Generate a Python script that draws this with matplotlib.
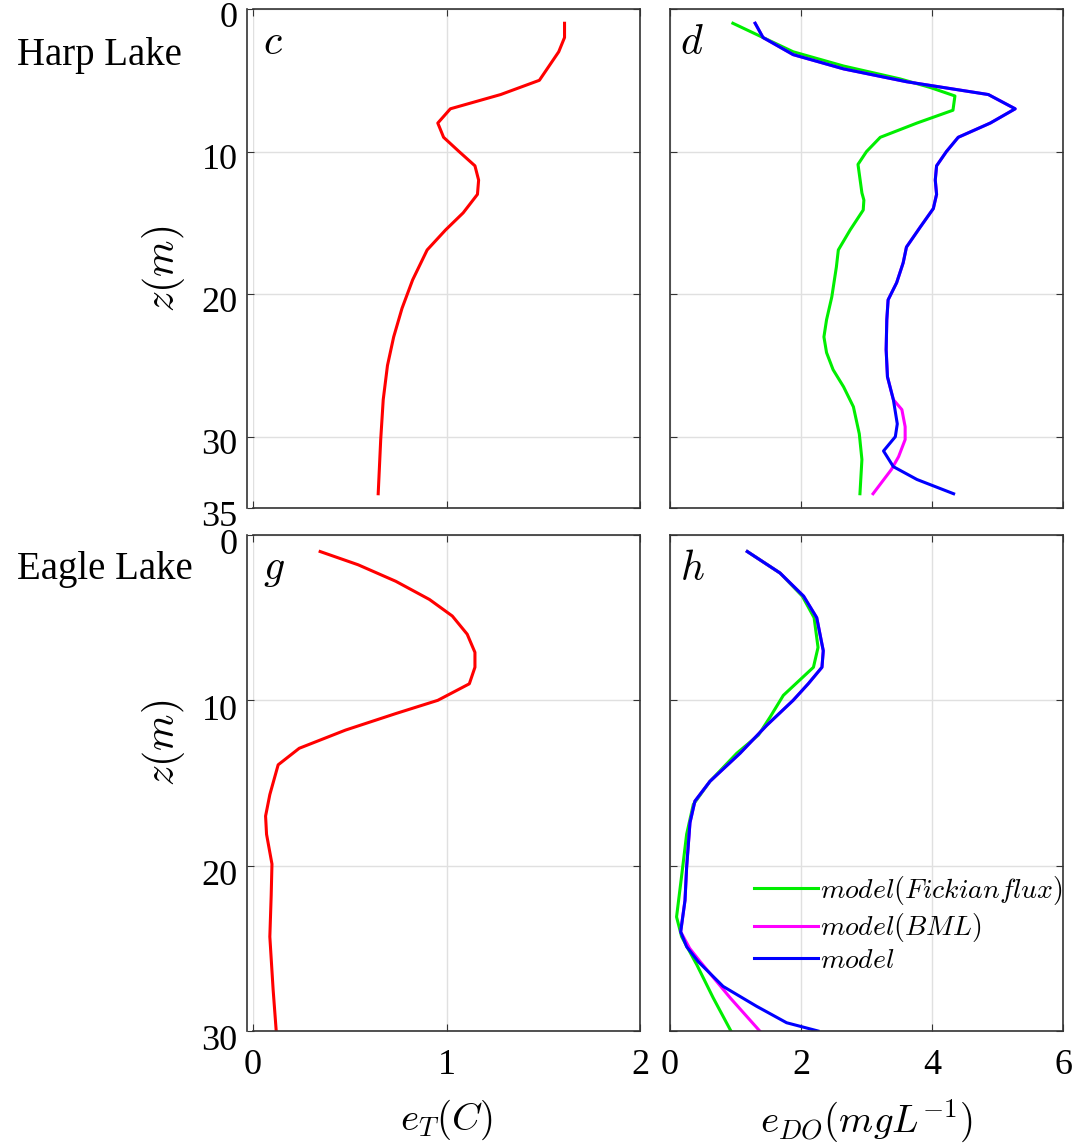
import matplotlib
matplotlib.use("Agg")
import matplotlib.pyplot as plt
import matplotlib.transforms as mtransforms

plt.rcParams['font.family'] = ['Liberation Serif', 'DejaVu Serif']
plt.rcParams['mathtext.fontset'] = 'cm'

# Harp Lake, temperature error (panel c)
harp_z_T = [1, 2, 3, 5, 6, 7, 8, 9, 10, 11, 12, 13, 14.3, 15.5, 16.9, 19, 21, 23, 25, 27.4, 30.2, 34]
harp_eT = [1.61, 1.61, 1.58, 1.48, 1.28, 1.02, 0.955, 0.985, 1.065, 1.147, 1.166, 1.16, 1.086, 0.995,
           0.90, 0.825, 0.77, 0.727, 0.695, 0.673, 0.66, 0.647]

# Harp Lake, DO error (panel d)
harp_z_fick = [1, 2, 3, 4, 4.9, 5.5, 6.1, 7.1, 8, 9, 10, 10.9, 12.9, 13.4, 14.1, 15.5, 16.9, 18.1,
               20.2, 21.8, 23, 24.1, 25.3, 26.5, 27.9, 29.8, 31.6, 34]
harp_fick = [0.96, 1.42, 1.88, 2.65, 3.51, 3.97, 4.35, 4.32, 3.77, 3.21, 3.0, 2.87, 2.93, 2.96, 2.95,
             2.75, 2.57, 2.54, 2.47, 2.39, 2.35, 2.39, 2.49, 2.65, 2.80, 2.89, 2.93, 2.90]
harp_z_mod = [1, 2, 3.2, 4.2, 5.1, 6, 7, 8, 9, 10, 11, 12, 13, 14, 15.3, 16.7, 17.8, 19.2, 20.4, 21.8,
              23.9, 25.8, 27.4, 29.1, 30, 31, 32.1, 33, 34]
harp_mod = [1.30, 1.42, 1.88, 2.65, 3.61, 4.86, 5.27, 4.89, 4.40, 4.22, 4.07, 4.05, 4.07, 4.02, 3.82,
            3.61, 3.56, 3.46, 3.33, 3.31, 3.30, 3.32, 3.41, 3.47, 3.44, 3.26, 3.41, 3.77, 4.33]
harp_z_bml = [1, 2, 3.2, 4.2, 5.1, 6, 7, 8, 9, 10, 11, 12, 13, 14, 15.3, 16.7, 17.8, 19.2, 20.4, 21.8,
              23.9, 25.8, 27.4, 28.1, 29.3, 30.2, 31.4, 32.3, 34]
harp_bml = [1.30, 1.42, 1.88, 2.65, 3.61, 4.86, 5.27, 4.89, 4.40, 4.22, 4.07, 4.05, 4.07, 4.02, 3.82,
            3.61, 3.56, 3.46, 3.33, 3.31, 3.30, 3.32, 3.41, 3.54, 3.59, 3.59, 3.49, 3.38, 3.10]

# Eagle Lake, temperature error (panel g)
eagle_z_T = [1, 1.8, 2.8, 3.9, 4.9, 6, 7.1, 8, 9, 10, 10.8, 11.8, 12.9, 13.9, 15.7, 17, 18.1, 19.9,
             21.8, 24.3, 27.5, 30]
eagle_eT = [0.347, 0.543, 0.738, 0.912, 1.03, 1.107, 1.147, 1.147, 1.118, 0.955, 0.738, 0.478, 0.239,
            0.13, 0.087, 0.065, 0.07, 0.098, 0.094, 0.087, 0.104, 0.12]

# Eagle Lake, DO error (panel h)
eagle_z_mod = [1, 2.3, 3.7, 5, 7, 8, 9, 10, 11.5, 13.2, 14.9, 16.1, 17.4, 20.1, 22.1, 24, 24.9, 25.8,
               27.3, 28.5, 29.5, 30]
eagle_mod = [1.18, 1.68, 2.04, 2.24, 2.34, 2.32, 2.11, 1.88, 1.48, 1.07, 0.61, 0.38, 0.305, 0.254,
             0.229, 0.163, 0.254, 0.43, 0.81, 1.32, 1.78, 2.26]
eagle_z_fick = [1, 2.3, 3.7, 5, 6.8, 8, 9.7, 11, 12.1, 13.2, 14.9, 16.3, 18.1, 20.6, 23.1, 24.3, 26,
                28, 30]
eagle_fick = [1.18, 1.68, 2.02, 2.20, 2.26, 2.19, 1.73, 1.53, 1.35, 1.02, 0.61, 0.356, 0.254, 0.178,
              0.10, 0.178, 0.41, 0.66, 0.93]
eagle_z_bml = [1, 2.3, 3.7, 5, 7, 8, 9, 10, 11.5, 13.2, 14.9, 16.1, 17.4, 20.1, 22.1, 24, 25, 25.8,
               28, 30]
eagle_bml = [1.18, 1.68, 2.04, 2.24, 2.34, 2.32, 2.11, 1.88, 1.48, 1.07, 0.61, 0.38, 0.305, 0.254,
             0.229, 0.163, 0.30, 0.46, 0.92, 1.37]

lake_names = ["Harp Lake", "Eagle Lake"]
panel_letters = [["c", "d"], ["g", "h"]]
legend_labels = [r"$model(Fickian flux)$", r"$model(BML)$", r"$model$"]

W, H = 1078, 1147
fig = plt.figure(figsize=(W / 100, H / 100), dpi=100)


def box(x0, y0, x1, y1):
    return [x0 / W, 1 - y1 / H, (x1 - x0) / W, (y1 - y0) / H]


ax_c = fig.add_axes(box(253, 9, 640, 508))
ax_d = fig.add_axes(box(670, 9, 1063, 508))
ax_g = fig.add_axes(box(253, 535, 640, 1031))
ax_h = fig.add_axes(box(670, 535, 1063, 1031))

lw = 2.2
ax_c.plot(harp_eT, harp_z_T, color="#ff0000", lw=lw)
ax_d.plot(harp_fick, harp_z_fick, color="#00ee00", lw=lw)
ax_d.plot(harp_bml, harp_z_bml, color="#ff00ff", lw=lw)
ax_d.plot(harp_mod, harp_z_mod, color="#0000ff", lw=lw)

ax_g.plot(eagle_eT, eagle_z_T, color="#ff0000", lw=lw)
ax_h.plot(eagle_fick, eagle_z_fick, color="#00ee00", lw=lw, label=legend_labels[0])
ax_h.plot(eagle_bml, eagle_z_bml, color="#ff00ff", lw=lw, label=legend_labels[1])
ax_h.plot(eagle_mod, eagle_z_mod, color="#0000ff", lw=lw, label=legend_labels[2])

axes = [[ax_c, ax_d], [ax_g, ax_h]]
for r, row in enumerate(axes):
    for c, ax in enumerate(row):
        if r == 0:
            ax.set_ylim(35, 0)
            ax.set_yticks([0, 10, 20, 30, 35])
        else:
            ax.set_ylim(30, 0)
            ax.set_yticks([0, 10, 20, 30])
        if c == 0:
            ax.set_xlim(0, 2)
            ax.set_xticks([0, 1, 2])
            ax.spines['left'].set_position(('outward', 4))
        else:
            ax.set_xlim(0, 6)
            ax.set_xticks([0, 2, 4, 6])
        ax.grid(True, color="#e0e0e0", lw=1)
        ax.tick_params(direction="in", top=True, right=True, labelsize=26, length=5,
                       color="#333333")
        ax.tick_params(axis="y", pad=7)
        ax.tick_params(axis="x", pad=13)
        for s in ax.spines.values():
            s.set_color("#333333")
            s.set_linewidth(1.2)
        if c == 1:
            ax.tick_params(labelleft=False)
        if r == 0:
            ax.tick_params(labelbottom=False)
        letter_off = mtransforms.ScaledTranslation(10 / 100, -35 / 100, fig.dpi_scale_trans)
        ax.text(0, 1, "$" + panel_letters[r][c] + "$", transform=ax.transAxes + letter_off,
                fontsize=30, va="center", ha="left")
    row[0].set_ylabel(r"$z(m)$", fontsize=30)

ax_c.yaxis.set_label_coords(-0.17, 0.48)
ax_g.yaxis.set_label_coords(-0.17, 0.58)

# depth labels of the left panels sit a little lower in the original
for ax, dy in [(ax_c, 5), (ax_g, 7)]:
    offset = mtransforms.ScaledTranslation(0, -dy / 100, fig.dpi_scale_trans)
    for lab in ax.get_yticklabels():
        lab.set_transform(lab.get_transform() + offset)

ax_g.set_xlabel(r"$e_T(C)$", fontsize=28)
ax_h.set_xlabel(r"$e_{DO}(mgL^{-1})$", fontsize=28)
ax_g.xaxis.set_label_coords(0.5, -0.135)
ax_h.xaxis.set_label_coords(0.5, -0.135)

fig.text(17 / W, 1 - 55 / H, lake_names[0], fontsize=28, va="center", ha="left")
fig.text(17 / W, 1 - 570 / H, lake_names[1], fontsize=28, va="center", ha="left")

ax_h.legend(loc="lower right", bbox_to_anchor=(1.0, 0.115), frameon=False, fontsize=20,
            handlelength=2.3, handletextpad=0.1, labelspacing=0.15, borderaxespad=0,
            borderpad=0)

fig.savefig("out.png", dpi=100)
